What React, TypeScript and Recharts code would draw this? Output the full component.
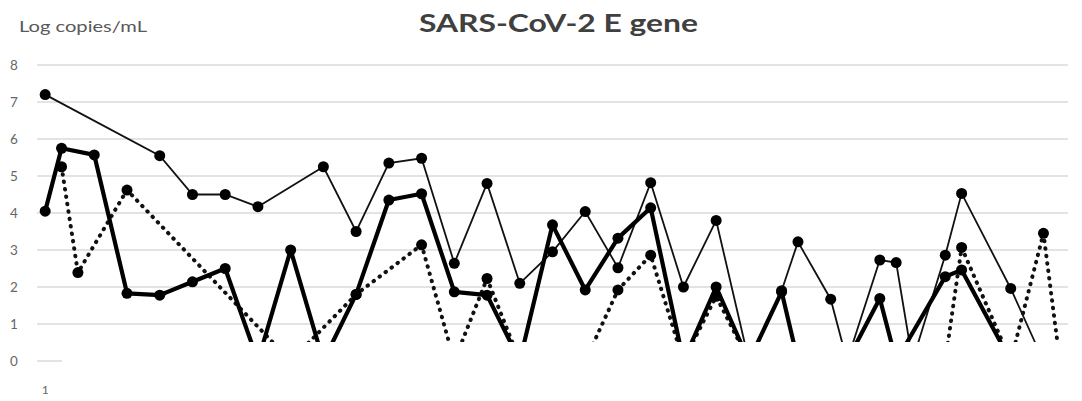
import { CartesianGrid, Line, LineChart, XAxis, YAxis } from "recharts";

const TITLE = "SARS-CoV-2 E gene";
const Y_LABEL = "Log copies/mL";

// sample number along the x axis (only "1" stays visible in the source)
const SAMPLES = Array.from({ length: 63 }, (_, i) => i + 1);
const Y_TICKS = [0, 1, 2, 3, 4, 5, 6, 7, 8];

// thin solid series
const THIN_AT = [1, 8, 10, 12, 14, 18, 20, 22, 24, 26, 28, 30, 32, 34, 36, 38, 40, 42, 44, 46, 47, 49, 50, 52, 53, 54, 56, 57, 60, 62];
const THIN_LOG = [7.2, 5.55, 4.5, 4.5, 4.17, 5.25, 3.5, 5.35, 5.48, 2.64, 4.8, 2.1, 2.95, 4.04, 2.52, 4.82, 2.0, 3.8, 0, 1.9, 3.22, 1.67, 0, 2.73, 2.66, 0, 2.86, 4.53, 1.96, 0];

// thick solid series
const THICK_AT = [1, 2, 4, 6, 8, 10, 12, 14, 16, 18, 20, 22, 24, 26, 28, 30, 32, 34, 36, 38, 40, 42, 44, 46, 47, 50, 52, 53, 56, 57, 60];
const THICK_LOG = [4.05, 5.75, 5.57, 1.83, 1.78, 2.14, 2.5, 0, 3.0, 0, 1.8, 4.35, 4.52, 1.87, 1.78, 0, 3.68, 1.92, 3.32, 4.14, 0, 2.0, 0, 1.87, 0, 0, 1.69, 0, 2.28, 2.46, 0];

// dotted series
const DOTTED_AT = [2, 3, 6, 16, 20, 24, 26, 28, 30, 34, 36, 38, 40, 42, 44, 56, 57, 60, 62, 63];
const DOTTED_LOG = [5.25, 2.39, 4.62, 0, 1.8, 3.14, 0, 2.23, 0, 0, 1.92, 2.86, 0, 1.75, 0, 0, 3.07, 0, 3.45, 0];

const pick = (at: number[], vals: number[], x: number) => {
  const i = at.indexOf(x);
  return i < 0 ? null : vals[i];
};

const data = SAMPLES.map((x) => ({
  x,
  thin: pick(THIN_AT, THIN_LOG, x),
  thick: pick(THICK_AT, THICK_LOG, x),
  dotted: pick(DOTTED_AT, DOTTED_LOG, x),
}));

const FONT = "Lato, 'Open Sans', sans-serif";

function YTick({ y, payload }: any) {
  return (
    <text x={14} y={y} dy="0.35em" textAnchor="middle" fill="#666" fontSize={13.5} fontFamily={FONT}>
      {payload.value}
    </text>
  );
}

function XTick({ x, payload }: any) {
  return (
    <text x={x} y={394} textAnchor="middle" fill="#666" fontSize={12} fontFamily={FONT}>
      {payload.value}
    </text>
  );
}

function Marker(p: any) {
  if (p.value == null || p.cy == null) return <g key={`m-${p.index}`} />;
  return <circle key={`m-${p.index}`} cx={p.cx} cy={p.cy} r={5.5} fill="#000" />;
}

export default function App() {
  return (
    <div style={{ position: "absolute", left: 0, top: 0, width: 1082, height: 401, background: "#fff" }}>
      <LineChart width={1082} height={401} data={data} margin={{ top: 65, right: 14, left: 7, bottom: 0 }}>
        <CartesianGrid horizontal vertical={false} stroke="#dadada" strokeWidth={1.6} />
        <XAxis
          dataKey="x"
          type="number"
          domain={[0.5, 63.5]}
          ticks={SAMPLES}
          interval={1}
          height={40}
          axisLine={false}
          tickLine={false}
          tick={<XTick />}
        />
        <YAxis
          type="number"
          domain={[0, 8]}
          ticks={Y_TICKS}
          width={30}
          axisLine={false}
          tickLine={false}
          tick={<YTick />}
        />
        <Line
          dataKey="thin"
          type="linear"
          stroke="#111"
          strokeWidth={1.8}
          connectNulls
          dot={Marker}
          activeDot={false}
          isAnimationActive={false}
        />
        <Line
          dataKey="dotted"
          type="linear"
          stroke="#111"
          strokeWidth={4}
          strokeDasharray="0.5 7"
          strokeLinecap="round"
          connectNulls
          dot={Marker}
          activeDot={false}
          isAnimationActive={false}
        />
        <Line
          dataKey="thick"
          type="linear"
          stroke="#000"
          strokeWidth={4.2}
          strokeLinejoin="round"
          connectNulls
          dot={Marker}
          activeDot={false}
          isAnimationActive={false}
        />
      </LineChart>
      <svg width={1082} height={60} style={{ position: "absolute", left: 0, top: 0, pointerEvents: "none" }}>
        <text x={19} y={32} fill="#595959" fontSize={15} fontFamily={FONT} textLength={128} lengthAdjust="spacingAndGlyphs">
          {Y_LABEL}
        </text>
        <text x={419} y={31.5} fill="#404040" fontSize={25} fontWeight={700} fontFamily={FONT} textLength={279} lengthAdjust="spacingAndGlyphs">
          {TITLE}
        </text>
      </svg>
      {/* white patch over the lower part of the source image */}
      <div style={{ position: "absolute", left: 62, top: 342, width: 1020, height: 59, background: "#fff" }} />
    </div>
  );
}
